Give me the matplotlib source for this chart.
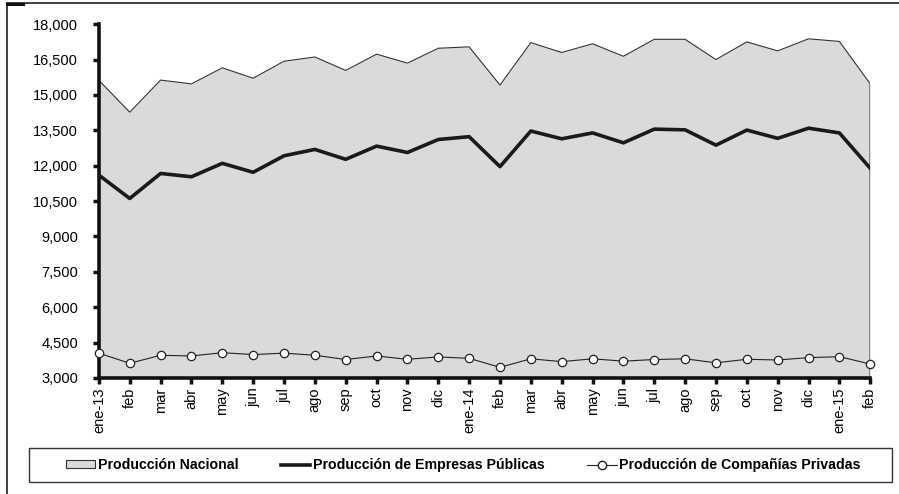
import matplotlib
matplotlib.use("Agg")
import matplotlib.pyplot as plt
from matplotlib.lines import Line2D
from matplotlib.patches import Rectangle
from matplotlib.ticker import FuncFormatter

plt.rcParams['font.family'] = ['Liberation Sans', 'DejaVu Sans']

meses = ["ene-13", "feb", "mar", "abr", "may", "jun", "jul", "ago", "sep", "oct", "nov", "dic",
         "ene-14", "feb", "mar", "abr", "may", "jun", "jul", "ago", "sep", "oct", "nov", "dic",
         "ene-15", "feb"]

# produccion nacional (area)
nacional = [15620, 14270, 15630, 15470, 16150, 15710, 16430, 16610, 16040, 16730, 16350, 16980,
            17040, 15420, 17220, 16800, 17170, 16640, 17360, 17360, 16500, 17250, 16870, 17380,
            17270, 15470]
# empresas publicas
publicas = [11600, 10610, 11670, 11530, 12100, 11720, 12420, 12690, 12270, 12830, 12560, 13110,
            13230, 11960, 13470, 13140, 13390, 12970, 13550, 13520, 12870, 13510, 13160, 13590,
            13390, 11890]
# companias privadas
privadas = [4050, 3620, 3960, 3930, 4070, 3990, 4050, 3960, 3780, 3930, 3790, 3890,
            3830, 3450, 3810, 3690, 3810, 3710, 3780, 3810, 3640, 3790, 3760, 3860,
            3900, 3590]

x = list(range(len(meses)))

fig = plt.figure(figsize=(8.99, 4.94), dpi=100)
ax = fig.add_axes([0.110, 0.235, 0.858, 0.716])

gris = '#d9dadc'
ax.fill_between(x, nacional, 3000, color=gris, linewidth=0, zorder=1)
ax.plot(x, nacional, color='#333333', linewidth=0.8, zorder=2)
ax.plot([x[-1], x[-1]], [3000, nacional[-1]], color='#777777', linewidth=1.2, zorder=2)
ax.plot(x, publicas, color='#1a1a1a', linewidth=2.6, zorder=3)
ax.plot(x, privadas, color='#222222', linewidth=0.8, marker='o', markersize=6,
        markerfacecolor='white', markeredgecolor='#222222', markeredgewidth=0.9, zorder=4,
        clip_on=False)

ax.set_xlim(0, len(meses) - 1)
ax.set_ylim(3000, 18000)
ax.set_yticks(range(3000, 18001, 1500))
ax.yaxis.set_major_formatter(FuncFormatter(lambda v, p: f"{int(v):,}"))
ax.set_xticks(x)
ax.set_xticklabels(meses, rotation=90)

for s in ['top', 'right']:
    ax.spines[s].set_visible(False)
for s in ['left', 'bottom']:
    ax.spines[s].set_linewidth(2.6)
    ax.spines[s].set_color('#111111')
ax.tick_params(axis='both', direction='out', length=4, width=2.5, color='#111111',
               labelsize=10.5, pad=3)
ax.tick_params(axis='y', pad=11)

# legend
h1 = Rectangle((0, 0), 1, 1, facecolor=gris, edgecolor='#333333', linewidth=0.8)
h2 = Line2D([], [], color='#1a1a1a', linewidth=2.6)
h3 = Line2D([], [], color='#222222', linewidth=0.8, marker='o', markersize=6,
            markerfacecolor='white', markeredgecolor='#222222')
leg = fig.legend([h1, h2, h3],
                 ["Producción Nacional", "Producción de Empresas Públicas",
                  "Producción de Compañías Privadas"],
                 loc='center', bbox_to_anchor=(0.515, 0.0587), ncol=3, frameon=False,
                 prop={'weight': 'bold', 'size': 10.2}, handlelength=2.1, handleheight=0.4,
                 handletextpad=0.15, columnspacing=3.0)

fig.add_artist(Rectangle((29 / 899, 1 - 482 / 494), (892 - 29) / 899, 34 / 494,
                         transform=fig.transFigure, fill=False, edgecolor='#333333',
                         linewidth=1.0))

# outer frame (top and left)
fig.add_artist(Line2D([7 / 899, 1], [1 - 3 / 494, 1 - 3 / 494], transform=fig.transFigure,
                      color='#333333', linewidth=1.3))
fig.add_artist(Line2D([7 / 899, 7 / 899], [0, 1 - 3 / 494], transform=fig.transFigure,
                      color='#333333', linewidth=1.3))
fig.add_artist(Line2D([7 / 899, 23 / 899], [1 - 4 / 494, 1 - 4 / 494], transform=fig.transFigure,
                      color='#111111', linewidth=2.2))

fig.savefig("out.png", dpi=100)
